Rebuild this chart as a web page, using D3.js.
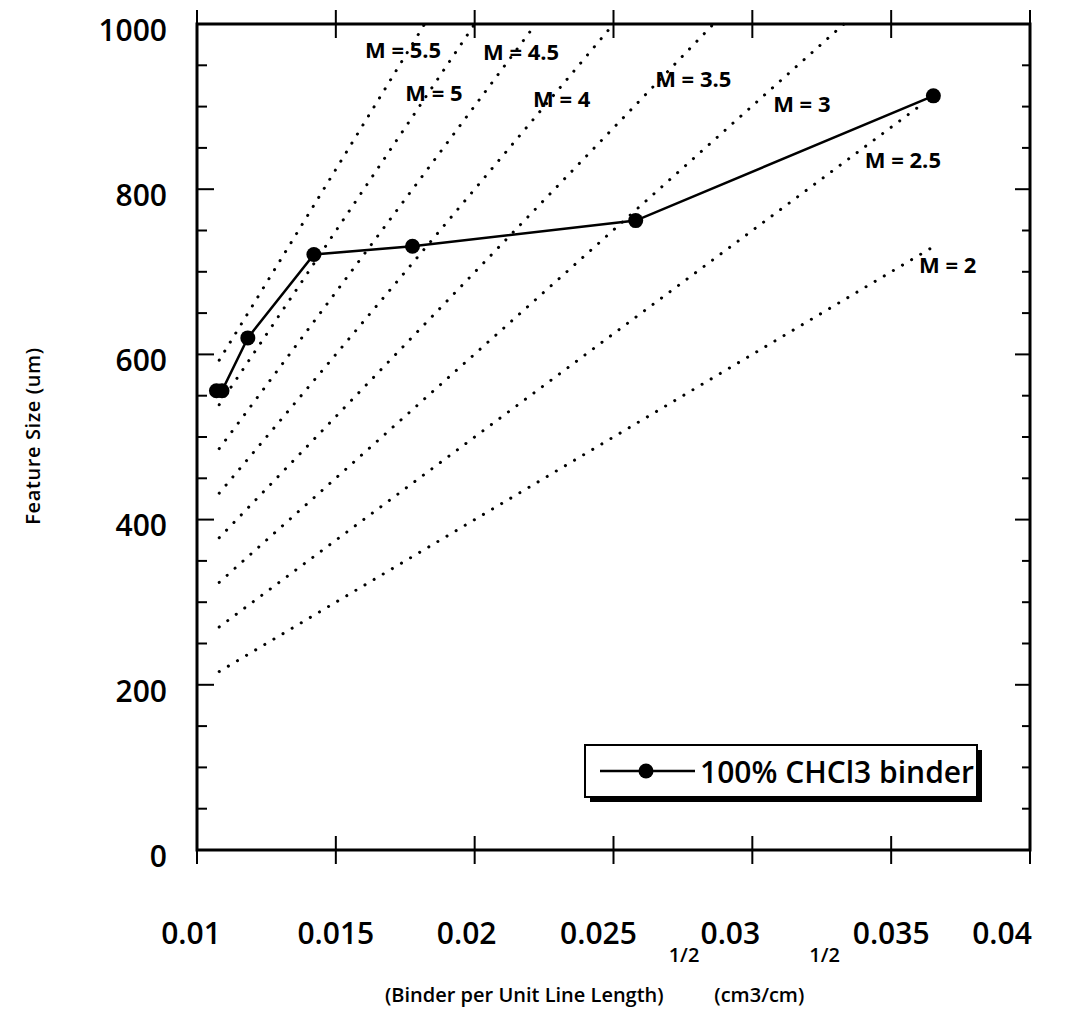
<!DOCTYPE html>
<html>
<head>
<meta charset="utf-8">
<script src="https://cdn.jsdelivr.net/npm/d3@7"></script>
<style>
  html, body { margin: 0; padding: 0; background: #fff; }
  svg { display: block; }
  text { font-family: "Open Sans", "DejaVu Sans", sans-serif; fill: #000; }
</style>
</head>
<body>
<svg id="chart" width="1070" height="1016"></svg>
<script>
// Measured series: 100% CHCl3 binder
const binderX = [0.0107, 0.0109, 0.01183, 0.01421, 0.01776, 0.0258, 0.03652];
const featureSize = [556, 556, 620, 721, 731, 762, 913];

// Constant-M reference lines (start and end points)
const mLabels = ["M = 5.5", "M = 5", "M = 4.5", "M = 4", "M = 3.5", "M = 3", "M = 2.5", "M = 2"];
const mStartX = [0.0108, 0.0108, 0.0108, 0.0108, 0.0108, 0.0108, 0.0108, 0.0108];
const mStartY = [593, 539, 486, 432, 378, 324, 270, 216];
const mEndX   = [0.0182, 0.0200, 0.0222, 0.0250, 0.0286, 0.0333, 0.0360, 0.0366];
const mEndY   = [1000, 1000, 1000, 1000, 1000, 1000, 900, 732];
// Label anchor for each line (data coordinates, left edge / baseline)
const mLabelX = [0.01605, 0.01750, 0.02030, 0.02210, 0.02650, 0.03075, 0.03405, 0.03600];
const mLabelY = [959, 907, 957, 900, 924, 893, 826, 698];

const xTicks = [0.01, 0.015, 0.02, 0.025, 0.03, 0.035, 0.04];
const xTickLabels = ["0.01", "0.015", "0.02", "0.025", "0.03", "0.035", "0.04"];
const xLabelNudge = [-6, 0, -8, -15, -22, 0, -28];
const yTicks = [0, 200, 400, 600, 800, 1000];
const yMinorTicks = d3.range(0, 1001, 50);

const svg = d3.select("#chart");
const plotL = 197, plotR = 1030, plotT = 24, plotB = 850;
const x = d3.scaleLinear().domain([0.01, 0.04]).range([plotL, plotR]);
const y = d3.scaleLinear().domain([0, 1000]).range([plotB, plotT]);

// Constant-M dotted lines
const mLines = svg.append("g");
mLabels.forEach((lab, i) => {
  mLines.append("line")
    .attr("x1", x(mStartX[i])).attr("y1", y(mStartY[i]))
    .attr("x2", x(mEndX[i])).attr("y2", y(mEndY[i]))
    .attr("stroke", "#000").attr("stroke-width", 3)
    .attr("stroke-linecap", "round")
    .attr("stroke-dasharray", "0.1 10.5");
  mLines.append("text")
    .attr("x", x(mLabelX[i])).attr("y", y(mLabelY[i]))
    .attr("font-size", 22).attr("font-weight", 700)
    .text(lab);
});

// Left and right axes with inward ticks every 50
function yAxisTicks(xPos, dir, minorLen, majorLen) {
  svg.append("g").selectAll("line").data(yMinorTicks).join("line")
    .attr("x1", xPos).attr("x2", d => xPos + dir * (d % 200 === 0 ? majorLen : minorLen))
    .attr("y1", d => y(d)).attr("y2", d => y(d))
    .attr("stroke", "#000").attr("stroke-width", 2);
}
yAxisTicks(plotL, 1, 10, 17);
yAxisTicks(plotR, -1, 8, 15);

// Horizontal axes: ticks cross the line
function xAxisTicks(yPos) {
  svg.append("g").selectAll("line").data(xTicks).join("line")
    .attr("x1", d => x(d)).attr("x2", d => x(d))
    .attr("y1", yPos - 14).attr("y2", yPos + 14)
    .attr("stroke", "#000").attr("stroke-width", 2);
}
xAxisTicks(plotB);
xAxisTicks(plotT);

// Frame lines
svg.append("rect")
  .attr("x", plotL).attr("y", plotT)
  .attr("width", plotR - plotL).attr("height", plotB - plotT)
  .attr("fill", "none").attr("stroke", "#000").attr("stroke-width", 3);

// Tick labels
svg.append("g").selectAll("text").data(yTicks).join("text")
  .attr("x", 167).attr("y", d => y(d) + 6)
  .attr("dy", "0.36em")
  .attr("text-anchor", "end")
  .attr("font-size", 30).attr("font-weight", 600)
  .text(d => d);

svg.append("g").selectAll("text").data(xTicks).join("text")
  .attr("x", (d, i) => x(d) + xLabelNudge[i]).attr("y", 944)
  .attr("text-anchor", "middle")
  .attr("font-size", 30).attr("font-weight", 600)
  .text((d, i) => xTickLabels[i]);

// Data series
const line = d3.line().x((d, i) => x(binderX[i])).y((d, i) => y(featureSize[i]));
svg.append("path")
  .datum(featureSize)
  .attr("d", line)
  .attr("fill", "none").attr("stroke", "#000").attr("stroke-width", 2.5);
svg.append("g").selectAll("circle").data(featureSize).join("circle")
  .attr("cx", (d, i) => x(binderX[i])).attr("cy", d => y(d))
  .attr("r", 7.5).attr("fill", "#000");

// Legend
const lg = svg.append("g");
lg.append("rect").attr("x", 590).attr("y", 750).attr("width", 392).attr("height", 52).attr("fill", "#000");
lg.append("rect").attr("x", 585).attr("y", 745).attr("width", 392).attr("height", 52)
  .attr("fill", "#fff").attr("stroke", "#000").attr("stroke-width", 2);
lg.append("line").attr("x1", 600).attr("x2", 695).attr("y1", 771).attr("y2", 771)
  .attr("stroke", "#000").attr("stroke-width", 2.5);
lg.append("circle").attr("cx", 646).attr("cy", 771).attr("r", 7.5).attr("fill", "#000");
lg.append("text").attr("x", 700).attr("y", 783)
  .attr("font-size", 30).attr("font-weight", 600)
  .text("100% CHCl3 binder");

// Axis titles
svg.append("text")
  .attr("transform", "translate(40,436) rotate(-90)")
  .attr("text-anchor", "middle")
  .attr("font-size", 20).attr("font-weight", 600)
  .attr("letter-spacing", 0.6)
  .text("Feature Size (um)");

const xt = svg.append("text").attr("x", 385).attr("y", 1002)
  .attr("font-size", 20).attr("font-weight", 600);
xt.append("tspan").text("(Binder per Unit Line Length)");
xt.append("tspan").attr("dx", 5).attr("dy", -40).text("1/2");
xt.append("tspan").attr("dx", 15).attr("dy", 40).text("(cm3/cm)");
xt.append("tspan").attr("dx", 5).attr("dy", -40).text("1/2");
</script>
</body>
</html>
